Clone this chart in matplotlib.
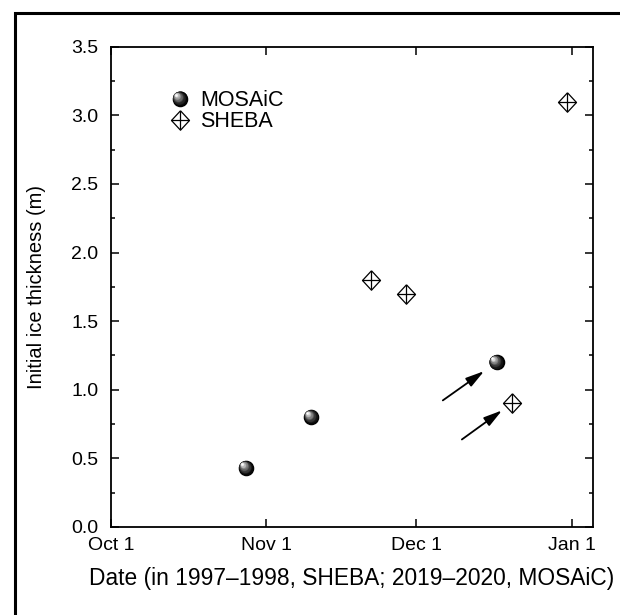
import numpy as np
import matplotlib
matplotlib.use('Agg')
import matplotlib.pyplot as plt
import matplotlib.dates as mdates
import matplotlib.transforms as mtransforms
from matplotlib.lines import Line2D
from matplotlib.legend_handler import HandlerBase
from matplotlib.patches import Rectangle
from datetime import datetime

plt.rcParams['font.family'] = ['Liberation Sans', 'DejaVu Sans']

# Dates folded onto one season (Oct 2019 - Jan 2020) so both campaigns share the axis
mosaic_dates = ['2019-10-28', '2019-11-10', '2019-12-17']
mosaic_thickness = [0.43, 0.80, 1.20]

sheba_dates = ['2019-11-22', '2019-11-29', '2019-12-20', '2019-12-31']
sheba_thickness = [1.80, 1.70, 0.90, 3.10]

tick_dates = ['2019-10-01', '2019-11-01', '2019-12-01', '2020-01-01']
tick_labels = ['Oct 1', 'Nov 1', 'Dec 1', 'Jan 1']


def to_num(dates):
    return mdates.date2num([datetime.strptime(d, '%Y-%m-%d') for d in dates])


mx = to_num(mosaic_dates)
sx = to_num(sheba_dates)
tx = to_num(tick_dates)

# shaded sphere: stacked circles, lighter and smaller towards the upper left
BALL = 11.2
N_LAYERS = 12
layers = []
for i in range(N_LAYERS):
    f = i / (N_LAYERS - 1)
    d = BALL * (1 - 0.85 * f)
    g = 0.99 * f ** 1.5
    off = (BALL - d) / 2 * 0.62
    layers.append((d, g, off))

DIAMOND = [(0, 1.08), (1, 0), (0, -1.08), (-1, 0), (0, 1.08)]
DSIZE = 14.0

fig = plt.figure(figsize=(6.2, 6.15), dpi=100)
ax = fig.add_axes([0.179, 0.1431, 0.777, 0.7809])

for d, g, off in layers:
    tr = mtransforms.offset_copy(ax.transData, fig=fig, x=-off, y=off, units='points')
    ax.plot(mx, mosaic_thickness, ls='none', marker='o', ms=d, mfc=str(g),
            mec='none', transform=tr, zorder=3)

ax.plot(sx, sheba_thickness, ls='none', marker=DIAMOND, ms=DSIZE, mfc='white',
        mec='black', mew=0.9, zorder=3)
ax.plot(sx, sheba_thickness, ls='none', marker='+', ms=DSIZE * 0.93, mec='black',
        mew=0.9, zorder=4)

# arrows pointing at the late-season MOSAiC and SHEBA points
arrow_kw = dict(arrowstyle='-|>,head_length=0.8,head_width=0.22', color='black',
                lw=1.3, mutation_scale=14, shrinkA=0)
ax.annotate('', xy=(mx[2], mosaic_thickness[2]), xytext=(-38.7, -27.4),
            textcoords='offset points', arrowprops=dict(shrinkB=11.0, **arrow_kw))
ax.annotate('', xy=(sx[2], sheba_thickness[2]), xytext=(-35.8, -25.9),
            textcoords='offset points', arrowprops=dict(shrinkB=8.5, **arrow_kw))


class SphereHandler(HandlerBase):
    def create_artists(self, legend, orig_handle, xdescent, ydescent,
                       width, height, fontsize, trans):
        cx = 0.5 * width - xdescent
        cy = 0.5 * height - ydescent
        arts = []
        for d, g, off in layers:
            arts.append(Line2D([cx - off], [cy + off], ls='none', marker='o', ms=d,
                               mfc=str(g), mec='none', transform=trans))
        return arts


class DiamondHandler(HandlerBase):
    def create_artists(self, legend, orig_handle, xdescent, ydescent,
                       width, height, fontsize, trans):
        cx = 0.5 * width - xdescent
        cy = 0.5 * height - ydescent
        a = Line2D([cx], [cy], ls='none', marker=DIAMOND, ms=DSIZE, mfc='white',
                   mec='black', mew=0.9, transform=trans)
        b = Line2D([cx], [cy], ls='none', marker='+', ms=DSIZE * 0.93, mec='black',
                   mew=0.9, transform=trans)
        return [a, b]


h_mosaic = Line2D([], [], label='MOSAiC')
h_sheba = Line2D([], [], label='SHEBA')
ax.legend([h_mosaic, h_sheba], ['MOSAiC', 'SHEBA'],
          handler_map={h_mosaic: SphereHandler(), h_sheba: DiamondHandler()},
          loc='upper left', bbox_to_anchor=(0.085, 0.945), frameon=False,
          fontsize=15.5, handlelength=1.0, handletextpad=0.45, labelspacing=0.0,
          borderpad=0.3)

ax.set_xlim(tx[0], tx[0] + 96.2)
ax.set_ylim(0, 3.5)
ax.set_xticks(tx)
ax.set_xticklabels(tick_labels)
ax.set_yticks(np.arange(0, 3.51, 0.5))
ax.set_yticks(np.arange(0.25, 3.5, 0.5), minor=True)
ax.yaxis.set_major_formatter(matplotlib.ticker.FormatStrFormatter('%.1f'))

ax.tick_params(which='both', direction='in', top=True, right=True, width=1.1,
               labelsize=14, colors='black')
ax.tick_params(which='major', length=6)
ax.tick_params(which='minor', length=3)
ax.tick_params(axis='y', pad=9)
ax.tick_params(axis='x', pad=7.5)
for s in ax.spines.values():
    s.set_linewidth(1.3)

ax.set_xlabel('Date (in 1997\u20131998, SHEBA; 2019\u20132020, MOSAiC)', fontsize=16.4,
              labelpad=9)
ax.set_ylabel('Initial ice thickness (m)', fontsize=14.5, labelpad=18)

fig.patches.append(Rectangle((14.5 / 620, -0.05), 1.2, 1.05 - 13.3 / 615,
                             transform=fig.transFigure, fill=False, lw=2.2,
                             edgecolor='black'))

fig.savefig('out.png', dpi=100)
